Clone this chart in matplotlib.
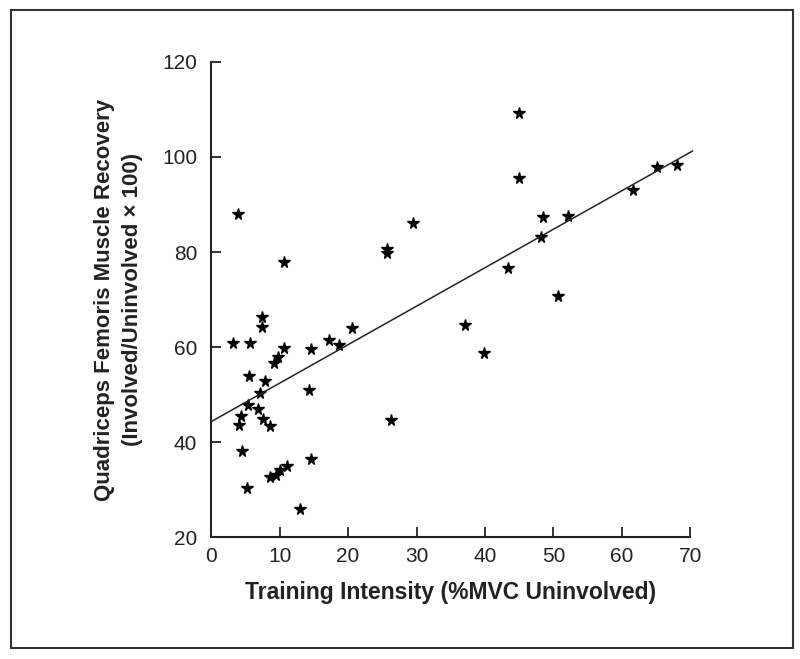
import numpy as np
import matplotlib.pyplot as plt
from matplotlib.patches import Rectangle

plt.rcParams['font.family'] = ['Liberation Sans', 'DejaVu Sans']

# training intensity (%MVC uninvolved) vs quadriceps recovery
intensity = [44.9, 44.9, 65.1, 68.1, 61.6, 48.5, 52.1, 48.2, 29.5, 25.7,
             25.7, 43.4, 50.7, 37.1, 39.8, 26.3, 3.9, 10.7, 7.4, 7.4,
             3.2, 5.7, 20.5, 17.2, 18.7, 14.6, 10.7, 9.8, 9.2, 5.5,
             7.9, 7.2, 14.3, 5.4, 4.4, 4.1, 6.9, 7.5, 8.6, 4.5,
             14.6, 11.1, 10.0, 9.4, 8.6, 5.3, 13.0]
recovery = [109.3, 95.6, 97.8, 98.4, 93.0, 87.4, 87.6, 83.1, 86.2, 80.6,
            79.7, 76.6, 70.8, 64.6, 58.7, 44.6, 88.1, 78.0, 66.3, 64.2,
            60.9, 60.9, 64.1, 61.5, 60.4, 59.5, 59.9, 58.0, 56.6, 53.8,
            52.8, 50.4, 50.9, 47.7, 45.5, 43.6, 46.9, 44.9, 43.3, 38.1,
            36.4, 34.9, 34.2, 33.0, 32.7, 30.4, 25.9]

# regression line as drawn in the figure
fit_intercept = 44.3
fit_slope = 0.81
fit_x = [0, 70.3]

fig = plt.figure(figsize=(8, 6.59), dpi=100)
ax = fig.add_axes([0.264, 0.185, 0.599, 0.721])

ax.plot(intensity, recovery, '*', color='black', markersize=8.5, clip_on=False)
fx = np.array(fit_x)
ax.plot(fx, fit_intercept + fit_slope * fx, color='#222222', lw=1.1, clip_on=False)

ax.set_xlim(0, 70)
ax.set_ylim(20, 120)
ax.set_xticks(range(0, 71, 10))
ax.set_yticks(range(20, 121, 20))
for s in ['top', 'right']:
    ax.spines[s].set_visible(False)
for s in ['left', 'bottom']:
    ax.spines[s].set_linewidth(1.5)
    ax.spines[s].set_color('#222222')
ax.tick_params(direction='in', length=7, width=1.3, labelsize=15,
               color='#222222', labelcolor='#222222')
ax.tick_params(axis='x', pad=7)
ax.tick_params(axis='y', pad=10)

ax.set_xlabel('Training Intensity (%MVC Uninvolved)', fontsize=16.5,
              fontweight='bold', labelpad=11, color='#222222')
ax.set_ylabel('Quadriceps Femoris Muscle Recovery\n(Involved/Uninvolved × 100)',
              fontsize=16, fontweight='bold', labelpad=14, color='#222222',
              linespacing=1.45)

# frame around the whole figure
fig.patches.append(Rectangle((11 / 800, 11 / 659), 782 / 800, 638 / 659,
                             transform=fig.transFigure, fill=False,
                             edgecolor='#333333', lw=1.5))

fig.savefig('out.png', dpi=100)
